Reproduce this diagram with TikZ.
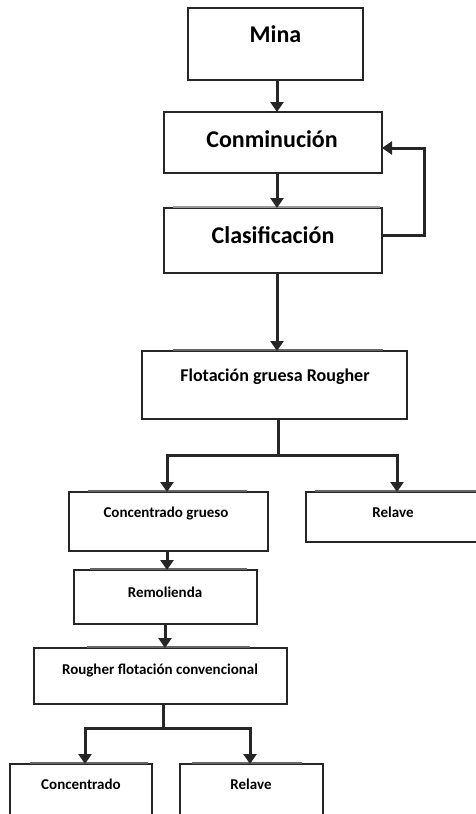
\documentclass[tikz,border=0pt]{standalone}
\usepackage{fontspec}
\setmainfont{Carlito}
\usetikzlibrary{arrows.meta}
\tikzset{
  box/.style={draw=black!85, line width=1.3pt, fill=white, rectangle, inner sep=0pt, outer sep=0pt},
  topbar/.style={draw=black!60, line width=2.2pt},
  flow/.style={draw=black!85, line width=3pt, -{Triangle[width=13pt,length=10pt]}},
  link/.style={draw=black!85, line width=3pt},
  big/.style={font=\bfseries\fontsize{24}{28}\selectfont, anchor=base, inner sep=0pt},
  mid/.style={font=\bfseries\fontsize{18}{22}\selectfont, anchor=base, inner sep=0pt},
  small/.style={font=\bfseries\fontsize{15}{18}\selectfont, anchor=base, inner sep=0pt},
}
\begin{document}
\begin{tikzpicture}[x=1pt, y=-1pt]
\useasboundingbox (0,0) rectangle (476,814);
\clip (0,0) rectangle (476,814);

% process boxes
\node[box, minimum width=175pt, minimum height=72pt] (mina) at (275.5,44) {};
\node[box, minimum width=218pt, minimum height=61pt] (conm) at (273,142.5) {};
\node[box, minimum width=218pt, minimum height=65pt] (clas) at (273,240.5) {};
\node[box, minimum width=265pt, minimum height=68pt] (flot) at (274.5,385) {};
\node[box, minimum width=199pt, minimum height=59pt] (concg) at (168.5,521.5) {};
\node[box, minimum width=174pt, minimum height=50pt] (relA) at (393,517) {};
\node[box, minimum width=183pt, minimum height=54pt] (remol) at (165.5,597) {};
\node[box, minimum width=253pt, minimum height=56pt] (rough) at (160.5,676) {};
\node[box, minimum width=142pt, minimum height=66pt] (conc) at (81,797) {};
\node[box, minimum width=143pt, minimum height=66pt] (relB) at (251.5,797) {};

% shaded top edges
\draw[topbar, draw=black!40, line width=1.4pt] ([xshift=9pt,yshift=0.9pt]clas.north west) -- ([xshift=-2pt,yshift=0.9pt]clas.north east);
\draw[topbar] ([xshift=31pt,yshift=1pt]flot.north west) -- ([xshift=-24pt,yshift=1pt]flot.north east);
\draw[topbar] ([xshift=19pt,yshift=1pt]concg.north west) -- ([xshift=-21pt,yshift=1pt]concg.north east);
\draw[topbar] ([xshift=9pt,yshift=1pt]relA.north west) -- ([xshift=-2pt,yshift=1pt]relA.north east);
\draw[topbar] ([xshift=16pt,yshift=1pt]remol.north west) -- ([xshift=-10pt,yshift=1pt]remol.north east);
\draw[topbar] ([xshift=53pt,yshift=1pt]rough.north west) -- ([xshift=-37pt,yshift=1pt]rough.north east);
\draw[topbar] ([xshift=20pt,yshift=1pt]conc.north west) -- ([xshift=-4pt,yshift=1pt]conc.north east);
\draw[topbar] ([xshift=12pt,yshift=1pt]relB.north west) -- ([xshift=-21pt,yshift=1pt]relB.north east);

% labels
\node[big] (t-mina) at (275.5,42) {Mina};
\node[big] (t-conm) at (272,147) {Conminución};
\node[big] (t-clas) at (273,243) {Clasificación};
\node[mid] (t-flot) at (275,381) {Flotación gruesa Rougher};
\node[small] (t-concg) at (166,517) {Concentrado grueso};
\node[small] (t-relA) at (393,517) {Relave};
\node[small] (t-remol) at (165,597) {Remolienda};
\node[small] (t-rough) at (160,674) {Rougher flotación convencional};
\node[small] (t-conc) at (81,789) {Concentrado};
\node[small] (t-relB) at (251,789) {Relave};

% main line
\draw[flow] (mina.south -| 277,0) -- (conm.north -| 277,0);
\draw[flow] (conm.south -| 277,0) -- (clas.north -| 277,0);
\draw[flow] (clas.south -| 277,0) -- (flot.north -| 277,0);

% recirculation from classification back to comminution
\coordinate (rc1) at (424,235);
\coordinate (rc2) at (424,148);
\draw[flow] (clas.east |- rc1) -- (rc1) -- (rc2) -- (conm.east |- rc2);

% rougher split
\coordinate (s1) at (278,455);
\draw[link] (flot.south -| s1) -- (s1);
\draw[flow] (s1) -| (167,0 |- concg.north);
\draw[flow] (s1) -| (397,0 |- relA.north);

% regrind circuit
\draw[flow] (concg.south -| 167,0) -- (remol.north -| 167,0);
\draw[flow] (remol.south -| 165,0) -- (rough.north -| 165,0);

% final split
\coordinate (s2) at (163,728);
\draw[link] (rough.south -| s2) -- (s2);
\draw[flow] (s2) -| (85,0 |- conc.north);
\draw[flow] (s2) -| (250,0 |- relB.north);
\end{tikzpicture}
\end{document}
